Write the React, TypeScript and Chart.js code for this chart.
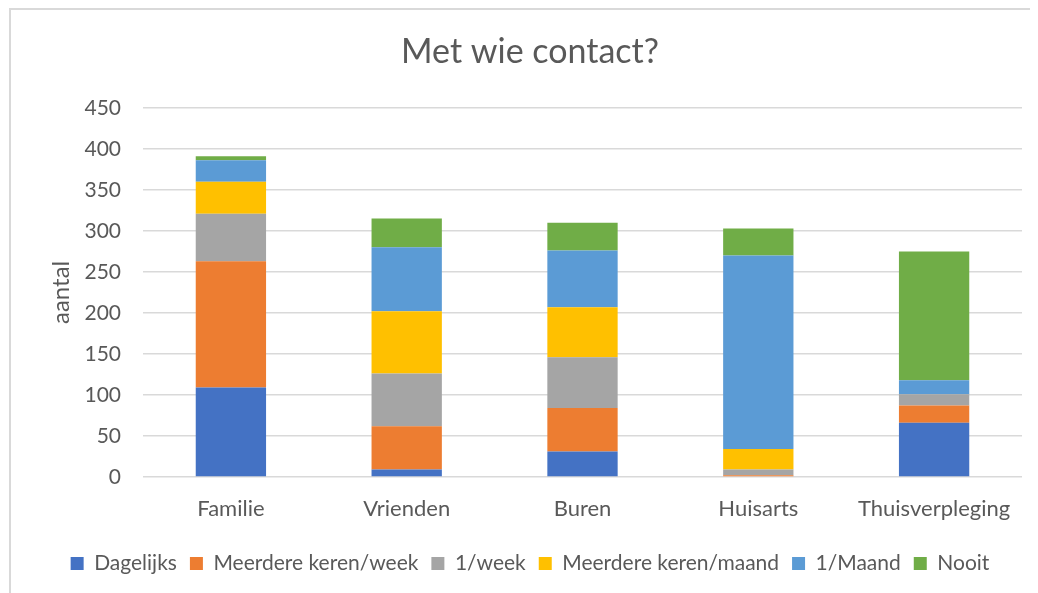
import React, { useEffect, useRef } from "react";
import { Chart, registerables } from "chart.js";

Chart.register(...registerables);

const categories = ["Familie", "Vrienden", "Buren", "Huisarts", "Thuisverpleging"];
const seriesNames = ["Dagelijks", "Meerdere keren/week", "1/week", "Meerdere keren/maand", "1/Maand", "Nooit"];
const dagelijks = [109, 9, 31, 0, 66];
const meerdereWeek = [154, 53, 53, 2, 21];
const perWeek = [58, 64, 62, 7, 14];
const meerdereMaand = [39, 76, 61, 25, 0];
const perMaand = [26, 78, 69, 236, 17];
const nooit = [5, 35, 34, 33, 157];
const colors = ["#4472C4", "#ED7D31", "#A5A5A5", "#FFC000", "#5B9BD5", "#70AD47"];
const title = "Met wie contact?";
const yTitle = "aantal";

const FONT = "Lato, 'Open Sans', sans-serif";
const TXT = "#595959";

const borderPlugin = {
  id: "frame",
  beforeDraw(chart: any) {
    const ctx = chart.ctx;
    ctx.save();
    ctx.fillStyle = "#ffffff";
    ctx.fillRect(0, 0, chart.width, chart.height);
    ctx.strokeStyle = "#D9D9D9";
    ctx.lineWidth = 2;
    ctx.beginPath();
    ctx.moveTo(2, chart.height);
    ctx.lineTo(2, 1);
    ctx.lineTo(chart.width, 1);
    ctx.stroke();
    ctx.restore();
  },
};

export default function App() {
  const ref = useRef<HTMLCanvasElement>(null);
  useEffect(() => {
    if (!ref.current) return;
    const values = [dagelijks, meerdereWeek, perWeek, meerdereMaand, perMaand, nooit];
    const chart = new Chart(ref.current, {
      type: "bar",
      data: {
        labels: categories,
        datasets: seriesNames.map((n, i) => ({
          label: n,
          data: values[i],
          backgroundColor: colors[i],
          borderWidth: 0,
          categoryPercentage: 1,
          barPercentage: 0.4,
        })),
      },
      plugins: [borderPlugin],
      options: {
        responsive: false,
        animation: false,
        layout: { padding: { left: 30, right: 16, top: 0, bottom: 9 } },
        plugins: {
          title: {
            display: true,
            text: title,
            color: TXT,
            font: { family: FONT, size: 34, weight: "normal" },
            padding: { top: 24, bottom: 35 },
          },
          legend: {
            position: "bottom",
            labels: {
              color: TXT,
              font: { family: FONT, size: 21 },
              boxWidth: 13,
              boxHeight: 13,
              padding: 13,
            },
          },
          tooltip: { enabled: false },
        },
        scales: {
          x: {
            stacked: true,
            grid: { display: false, drawTicks: false },
            border: { display: false },
            ticks: { color: TXT, font: { family: FONT, size: 22 }, padding: 19 },
            afterFit: (s: any) => { s.height = 63; },
          },
          y: {
            stacked: true,
            min: 0,
            max: 450,
            ticks: { stepSize: 50, color: TXT, font: { family: FONT, size: 21 }, padding: 22 },
            grid: { color: "#D9D9D9", lineWidth: 1.5, drawTicks: false },
            border: { display: false },
            title: {
              display: true,
              text: yTitle,
              color: TXT,
              font: { family: FONT, size: 24 },
              padding: { top: 9, bottom: 0 },
            },
            afterFit: (s: any) => { s.width = 105; },
          },
        },
      },
    });
    return () => chart.destroy();
  }, []);
  return (
    <div>
      <canvas ref={ref} width={1030} height={585} style={{ display: "block" }} />
    </div>
  );
}
